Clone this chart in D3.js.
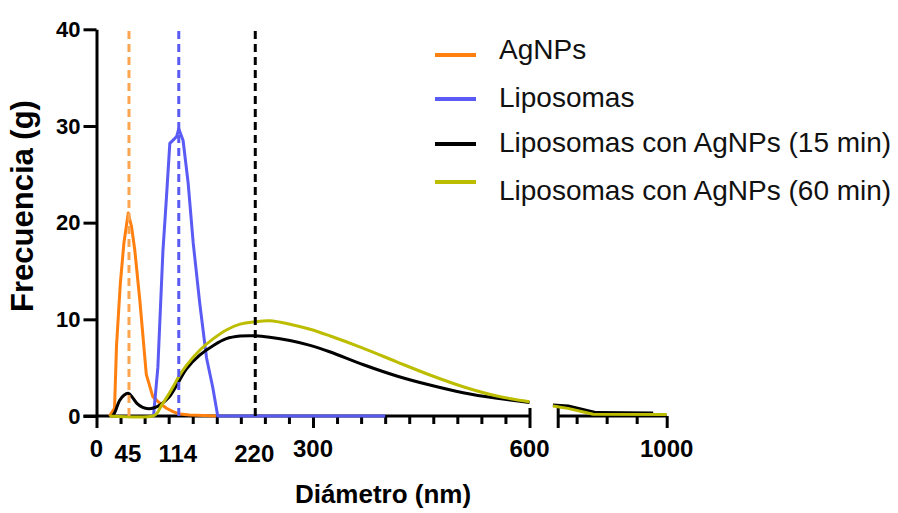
<!DOCTYPE html>
<html>
<head>
<meta charset="utf-8">
<script src="https://cdn.jsdelivr.net/npm/d3@7"></script>
<style>
  body { margin: 0; background: #fff; }
  svg { display: block; }
  text { font-family: "Liberation Sans", Arial, sans-serif; }
</style>
</head>
<body>
<div id="chart"></div>
<script>
// Data (diametro nm, frecuencia)
const agnps = [[18,0],[25,0.8],[27.7,7.2],[33,13.7],[38,17.9],[44,21],[48.5,19.6],[53,17.2],[60,12],[69,4.3],[78,2.0],[88,1.3],[97,0.8],[106,0.45],[115,0.2],[129,0.1],[166,0]]
const liposomas = [[79,0],[85,5],[92,17],[97,22.7],[101.6,28.2],[111,28.9],[114,29.7],[120,28.5],[127,24.1],[134,17.9],[143,11.7],[152.5,6],[161,3],[168,0],[400,0]]
const lipo15 = [[22,0],[25,0.3],[32,1.6],[38,2.15],[44,2.35],[50,1.9],[56,1.3],[64,0.88],[72,0.75],[80,0.85],[88,1.14],[100,1.9],[112,3.3],[125,4.9],[143,6.3],[162,7.3],[180,8.0],[199,8.27],[220,8.3],[240,8.15],[268,7.8],[296,7.3],[323,6.65],[370,5.3],[416,4.14],[462,3.2],[508,2.41],[555,1.83],[600,1.4]]
const lipo60 = [[18,0],[78,0],[84,0.3],[90,1.1],[98,2.0],[106,3.0],[115,4.2],[125,5.27],[143,6.8],[162,8.0],[180,8.9],[199,9.5],[220,9.75],[240,9.85],[268,9.5],[296,8.97],[323,8.3],[370,7.0],[416,5.6],[462,4.24],[508,3.03],[555,2.07],[600,1.48]]
// tramo despues del corte del eje
const lipo15Tail = [[621,1.15],[672,1.03],[766,0.35],[955,0.3]]
const lipo60Tail = [[621,1.03],[671,0.79],[755,0.18],[1000,0.15]]

const peaks = [45, 114, 220]
const seriesNames = ["AgNPs", "Liposomas", "Liposomas con AgNPs (15 min)", "Liposomas con AgNPs (60 min)"]
const colors = ["#ff7f0f", "#5a5af5", "#000000", "#bdbd00"]
const peakColors = ["#fba550", "#5a5af5", "#000000"]
const yTicks = [0, 10, 20, 30, 40]
const xMajor = [0, 300, 600]
const xMajor2 = [1000]

const width = 898, height = 513
const y0 = 416

const svg = d3.select('#chart').append('svg')
  .attr('width', width)
  .attr('height', height)

const x1 = d3.scaleLinear().domain([0, 600]).range([96.5, 529.5])
const x2 = d3.scaleLinear().domain([620, 1000]).range([552.6, 666.7])
const y = d3.scaleLinear().domain([0, 40]).range([y0, 29.3])

// eje Y
const yAxis = svg.append('g')
  .attr('transform', `translate(${x1(0)},0)`)
  .call(d3.axisLeft(y).tickValues(yTicks).tickSize(13).tickSizeOuter(0).tickPadding(3))
yAxis.select('.domain').attr('stroke-width', 3)
yAxis.selectAll('.tick line').attr('stroke-width', 3)
yAxis.selectAll('text')
  .attr('font-size', 22).attr('font-weight', 'bold').attr('fill', '#000')
  .attr('font-family', '"Liberation Sans", Arial, sans-serif')

// eje X, tramo 1
const minor1 = d3.range(0, 601, 100 / 3)
const xAxis1 = svg.append('g')
  .attr('transform', `translate(0,${y0})`)
  .call(d3.axisBottom(x1).tickValues(minor1).tickSize(8).tickSizeOuter(0).tickFormat(''))
xAxis1.select('.domain').attr('stroke-width', 3).attr('d', `M${x1(0) - 13},0H${x1(600)}`)
xAxis1.selectAll('.tick line').attr('stroke-width', 3)
  .attr('y2', d => xMajor.some(m => Math.abs(m - d) < 1) ? 12 : 8)
  .attr('y1', d => Math.abs(d - 600) < 1 ? -8 : 0)

// eje X, tramo 2
const xAxis2 = svg.append('g')
  .attr('transform', `translate(0,${y0})`)
  .call(d3.axisBottom(x2).tickValues([637, 700, 800, 900, 1000]).tickSize(8).tickSizeOuter(0).tickFormat(''))
xAxis2.select('.domain').attr('stroke-width', 3).attr('d', `M${x2(637)},0H${x2(1000)}`)
xAxis2.selectAll('.tick line').attr('stroke-width', 3)
  .attr('y2', d => (d === 1000 || d === 637) ? 12 : 8)
  .attr('y1', d => d === 637 ? -10 : 0)

// etiquetas del eje X
const labels = svg.append('g')
  .attr('font-weight', 'bold').attr('font-size', 24).attr('text-anchor', 'middle')
labels.selectAll('text.major')
  .data(xMajor)
  .join('text')
  .attr('class', 'major')
  .attr('x', d => x1(d))
  .attr('y', 456.5)
  .text(d => d)
labels.selectAll('text.major2')
  .data(xMajor2)
  .join('text')
  .attr('class', 'major2')
  .attr('x', d => x2(d))
  .attr('y', 456.5)
  .text(d => d)
labels.selectAll('text.peak')
  .data(peaks)
  .join('text')
  .attr('class', 'peak')
  .attr('x', d => x1(d) - 1)
  .attr('y', 462)
  .text(d => d)

// lineas
const line1 = d3.line().x(d => x1(d[0])).y(d => y(d[1]))
const smooth1 = d3.line().x(d => x1(d[0])).y(d => y(d[1])).curve(d3.curveCatmullRom.alpha(0.5))
const line2 = d3.line().x(d => x2(d[0])).y(d => y(d[1]))

const plot = svg.append('g').attr('fill', 'none').attr('stroke-width', 3).attr('stroke-linejoin', 'round')
plot.append('path').datum(agnps).attr('d', line1).attr('stroke', colors[0])
plot.append('path').datum(liposomas).attr('d', line1).attr('stroke', colors[1])
plot.append('path').datum(lipo15).attr('d', smooth1).attr('stroke', colors[2])
plot.append('path').datum(lipo60).attr('d', smooth1).attr('stroke', colors[3])
plot.append('path').datum(lipo15Tail).attr('d', line2).attr('stroke', colors[2])
plot.append('path').datum(lipo60Tail).attr('d', line2).attr('stroke', colors[3])

// lineas punteadas de los picos
svg.append('g').selectAll('line')
  .data(peaks)
  .join('line')
  .attr('x1', d => x1(d)).attr('x2', d => x1(d))
  .attr('y1', y(0)).attr('y2', y(40))
  .attr('stroke', (d, i) => peakColors[i])
  .attr('stroke-width', 3)
  .attr('stroke-dasharray', '8 5')

// titulos
svg.append('text')
  .attr('transform', `translate(33,206) rotate(-90)`)
  .attr('text-anchor', 'middle')
  .attr('font-size', 31).attr('font-weight', 'bold')
  .text('Frecuencia (g)')

svg.append('text')
  .attr('x', 383).attr('y', 503)
  .attr('text-anchor', 'middle')
  .attr('font-size', 26).attr('font-weight', 'bold')
  .text('Diámetro (nm)')

// leyenda
const legendBase = [59, 107, 152, 200]
const legendSwatch = [55, 99, 144, 182]
const legend = svg.append('g')
legend.selectAll('line')
  .data(seriesNames)
  .join('line')
  .attr('x1', 435).attr('x2', 476)
  .attr('y1', (d, i) => legendSwatch[i]).attr('y2', (d, i) => legendSwatch[i])
  .attr('stroke', (d, i) => colors[i])
  .attr('stroke-width', 4)
legend.selectAll('text')
  .data(seriesNames)
  .join('text')
  .attr('x', 499)
  .attr('y', (d, i) => legendBase[i])
  .attr('font-size', 28)
  .attr('fill', '#111')
  .text(d => d)
</script>
</body>
</html>
